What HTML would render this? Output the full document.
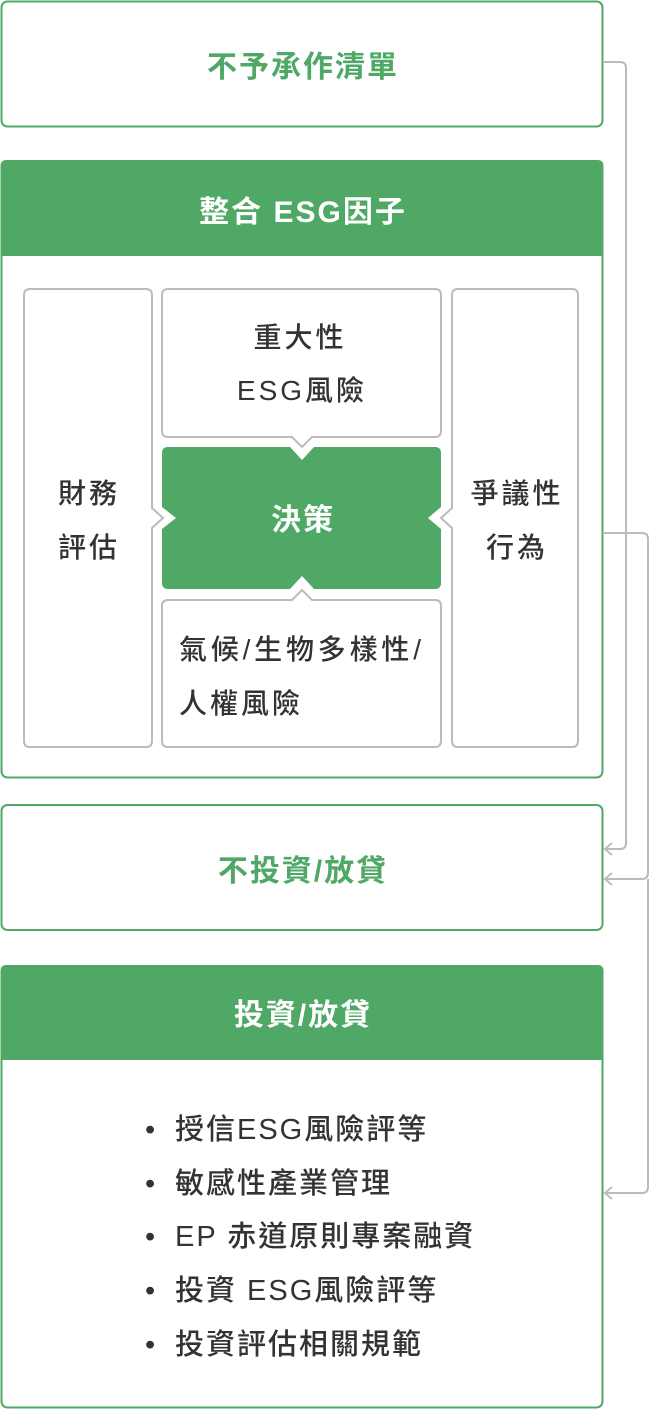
<!DOCTYPE html>
<html><head><meta charset="utf-8"><style>
html,body{margin:0;padding:0;background:#fff;}
svg{display:block;}
text{font-family:"Liberation Sans","Noto Sans CJK TC",sans-serif;}
.t{font-size:30px;font-weight:700;fill:#4fa866;letter-spacing:2px;}
.w{font-size:30px;font-weight:700;fill:#fff;letter-spacing:2px;}
.g{font-size:28px;font-weight:500;fill:#333;letter-spacing:3px;}
.l{font-size:29px;font-weight:500;fill:#333;letter-spacing:2px;}
</style></head><body>
<svg width="666" height="1410" viewBox="0 0 666 1410">
<rect x="1.5" y="1.5" width="601" height="125" rx="6" fill="#fff" stroke="#4fa866" stroke-width="2"/>
<text class="t" x="303" y="77" text-anchor="middle">不予承作清單</text>
<rect x="1.5" y="161" width="601" height="616.5" rx="6" fill="#fff" stroke="#4fa866" stroke-width="2"/>
<path d="M0.5,166 Q0.5,160 6.5,160 H597.5 Q603.5,160 603.5,166 V256 H0.5 Z" fill="#4fa866"/>
<text class="w" x="303" y="222" text-anchor="middle">整合 ESG因子</text>
<path d="M30,289 H146 Q152,289 152,295 V508 L163,518 L152,528 V741 Q152,747 146,747 H30 Q24,747 24,741 V295 Q24,289 30,289 Z" fill="#fff" stroke="#bbb" stroke-width="2"/>
<text class="g" x="89" y="503" text-anchor="middle">財務</text>
<text class="g" x="89" y="557" text-anchor="middle">評估</text>
<path d="M458,289 H572 Q578,289 578,295 V741 Q578,747 572,747 H458 Q452,747 452,741 V528 L441,518 L452,508 V295 Q452,289 458,289 Z" fill="#fff" stroke="#bbb" stroke-width="2"/>
<text class="g" x="517" y="503" text-anchor="middle">爭議性</text>
<text class="g" x="517" y="557" text-anchor="middle">行為</text>
<path d="M168,289 H435 Q441,289 441,295 V431 Q441,437 435,437 H312 L302,447 L292,437 H168 Q162,437 162,431 V295 Q162,289 168,289 Z" fill="#fff" stroke="#bbb" stroke-width="2"/>
<text class="g" x="300" y="347" text-anchor="middle">重大性</text>
<text class="g" x="302" y="400" text-anchor="middle">ESG風險</text>
<path d="M168,600 H292 L302,590 L312,600 H435 Q441,600 441,606 V741 Q441,747 435,747 H168 Q162,747 162,741 V606 Q162,600 168,600 Z" fill="#fff" stroke="#bbb" stroke-width="2"/>
<text class="g" x="179" y="659" textLength="245" lengthAdjust="spacing">氣候/生物多樣性/</text>
<text class="g" x="179" y="713">人權風險</text>
<path d="M168,447 H290 L302,460 L314,447 H435 Q441,447 441,453 V507 L428,518 L441,529 V583 Q441,589 435,589 H314 L302,576 L290,589 H168 Q162,589 162,583 V529 L176,518 L162,507 V453 Q162,447 168,447 Z" fill="#4fa866"/>
<text class="w" x="303" y="530" text-anchor="middle">決策</text>
<rect x="1.5" y="805" width="601" height="125" rx="6" fill="#fff" stroke="#4fa866" stroke-width="2"/>
<text class="t" x="303" y="881" text-anchor="middle">不投資/放貸</text>
<rect x="1.5" y="966" width="601" height="441.5" rx="6" fill="#fff" stroke="#4fa866" stroke-width="2"/>
<path d="M0.5,971 Q0.5,965 6.5,965 H597.5 Q603.5,965 603.5,971 V1060 H0.5 Z" fill="#4fa866"/>
<text class="w" x="303" y="1025" text-anchor="middle">投資/放貸</text>
<g class="l">
<text x="145" y="1139">•</text><text x="175" y="1139">授信ESG風險評等</text>
<text x="145" y="1193">•</text><text x="175" y="1193">敏感性產業管理</text>
<text x="145" y="1246">•</text><text x="175" y="1246">EP 赤道原則專案融資</text>
<text x="145" y="1300">•</text><text x="175" y="1300">投資 ESG風險評等</text>
<text x="145" y="1354">•</text><text x="175" y="1354">投資評估相關規範</text>
</g>
<g fill="none" stroke="#bbb" stroke-width="2">
<path d="M604,62 H620 Q626,62 626,68 V843 Q626,849 620,849 H605"/>
<path d="M612,843 L605,849 L612,855"/>
<path d="M604,533 H642 Q648,533 648,539 V873 Q648,879 642,879 H605"/>
<path d="M612,873 L605,879 L612,885"/>
<path d="M648,879 V1187 Q648,1193 642,1193 H605"/>
<path d="M612,1187 L605,1193 L612,1199"/>
</g>
</svg>
</body></html>
